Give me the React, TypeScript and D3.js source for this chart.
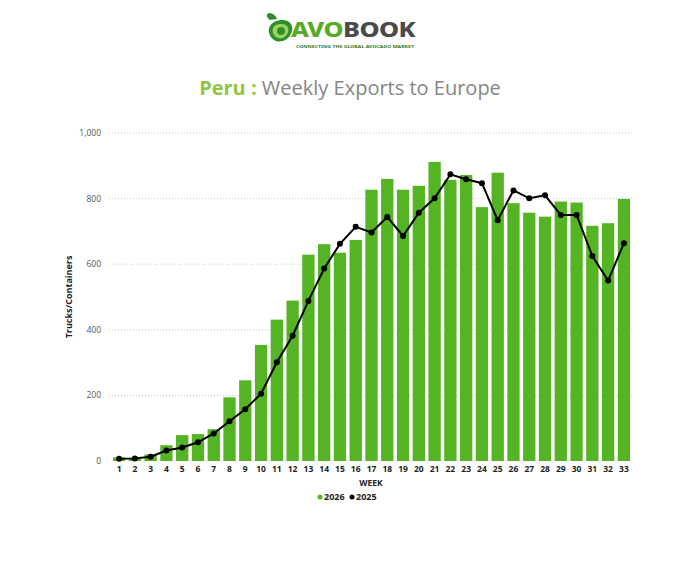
import React from "react";
import * as d3 from "d3";

const weeks = [1,2,3,4,5,6,7,8,9,10,11,12,13,14,15,16,17,18,19,20,21,22,23,24,25,26,27,28,29,30,31,32,33];
const values2026 = [11,8,20,48,79,82,97,194,246,354,431,489,629,661,635,674,827,860,827,839,912,857,872,774,879,786,757,745,791,788,717,725,799];
const values2025 = [7,8,13,32,41,57,84,121,158,205,301,382,488,587,662,714,697,744,686,757,801,874,859,847,734,825,801,810,750,750,625,550,664];
const yTicks = [0,200,400,600,800,1000];

const W = 700, H = 586;
const green = "#54b423";
const font = "'Open Sans', 'Noto Sans', sans-serif";

export default function App() {
  const x = d3.scaleBand<number>().domain(weeks).range([109, 634]).paddingInner(0.22).paddingOuter(0.25);
  const y = d3.scaleLinear().domain([0, 1000]).range([461, 133]);
  const cx = (w: number) => (x(w) as number) + x.bandwidth() / 2;
  const line = d3.line<number>().x((_, i) => cx(weeks[i])).y(d => y(d));
  const fmt = d3.format(",");

  return (
    <svg width={W} height={H} style={{ display: "block", margin: "-8px" }} fontFamily={font}>
      <rect width={W} height={H} fill="#fff" />
      {/* Logo */}
      <g>
        <path d="M270,20 C266,17 266,14 269,13 C273,13 276,16 277,19 Z" fill="#2e8b2e" />
        <path d="M274,22 C285,17 294,22 292,31 C290,40 280,44 274,40 C268,36 266,27 274,22 Z" fill="#2f8f2f" />
        <path d="M276,25 C284,22 290,26 288,32 C286,38 280,40 276,37 C272,34 271,28 276,25 Z" fill="#9fd35a" />
        <circle cx={281} cy={31} r={4} fill="#2f8f2f" />
        <text x={291} y={37} fontSize={21} fontWeight={800} fontFamily="'Noto Sans', sans-serif" letterSpacing={-0.5} textLength={124} lengthAdjust="spacingAndGlyphs">
          <tspan fill="#5aaa2a">AVO</tspan><tspan fill="#4a4a4a">BOOK</tspan>
        </text>
        <text x={296} y={47.5} fontSize={4.2} fontWeight={700} fill="#3a7a20" fontFamily="'Noto Sans', sans-serif" textLength={118} lengthAdjust="spacingAndGlyphs">CONNECTING THE GLOBAL AVOCADO MARKET</text>
      </g>
      {/* Title */}
      <text x={350} y={95} textAnchor="middle" fontSize={20} fontFamily="'Open Sans', sans-serif">
        <tspan fill="#8dc63f" fontWeight={700}>Peru : </tspan>
        <tspan fill="#858585">Weekly Exports to Europe</tspan>
      </text>
      {/* Grid */}
      {yTicks.map(t => (
        <g key={t}>
          {t > 0 && <line x1={109} x2={634} y1={y(t)} y2={y(t)} stroke="#c8c8c8" strokeDasharray="1,2" strokeWidth={1} />}
          <text x={101} y={y(t) + 3} textAnchor="end" fontSize={8.5} fill="#555">{fmt(t)}</text>
        </g>
      ))}
      {/* Bars */}
      {weeks.map((w, i) => (
        <rect key={w} x={x(w)} y={y(values2026[i])} width={x.bandwidth()} height={y(0) - y(values2026[i])} fill={green} />
      ))}
      {/* Line */}
      <path d={line(values2025) || ""} fill="none" stroke="#000" strokeWidth={2} />
      {values2025.map((v, i) => (
        <circle key={i} cx={cx(weeks[i])} cy={y(v)} r={3} fill="#000" />
      ))}
      {/* X ticks */}
      {weeks.map(w => (
        <text key={w} x={cx(w)} y={472} textAnchor="middle" fontSize={8.5} fontWeight={700} fill="#222">{w}</text>
      ))}
      <text x={371} y={486} textAnchor="middle" fontSize={8.5} fontWeight={700} fill="#222">WEEK</text>
      <text transform={`translate(72,297) rotate(-90)`} textAnchor="middle" fontSize={9} fontWeight={700} fill="#222">Trucks/Containers</text>
      {/* Legend */}
      <circle cx={320} cy={497} r={2.5} fill={green} />
      <text x={324} y={500} fontSize={9} fontWeight={700} fill="#222">2026</text>
      <circle cx={352} cy={497} r={2.5} fill="#000" />
      <text x={356} y={500} fontSize={9} fontWeight={700} fill="#222">2025</text>
    </svg>
  );
}
